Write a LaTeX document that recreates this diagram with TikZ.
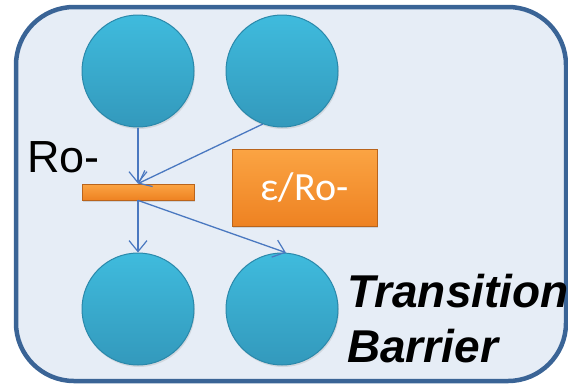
\documentclass[tikz,border=0pt]{standalone}
\usepackage{fontspec}
\setmainfont{Liberation Sans}
\newfontfamily\calibrifont{Carlito}
\usetikzlibrary{arrows.meta,shadows}
\definecolor{framefill}{HTML}{E6EDF6}
\definecolor{frameline}{HTML}{3A6496}
\definecolor{balltop}{HTML}{3FBBDD}
\definecolor{ballbot}{HTML}{3399BC}
\definecolor{ballrim}{HTML}{2A88AA}
\definecolor{orangetop}{HTML}{FBA443}
\definecolor{orangebot}{HTML}{EE8222}
\definecolor{orangerim}{HTML}{B9641C}
\definecolor{arrowblue}{HTML}{4A78C0}
\tikzset{
  x=1pt, y=-1pt,
  ball/.style={circle, minimum size=112pt, inner sep=0pt,
    top color=balltop, bottom color=ballbot, draw=ballrim, line width=1pt,
    drop shadow={shadow xshift=1pt, shadow yshift=-2pt, opacity=0.2}},
  barrier/.style={rectangle, minimum width=112pt, minimum height=16pt, inner sep=0pt,
    top color=orangetop, bottom color=orangebot, draw=orangerim, line width=0.8pt,
    drop shadow={shadow xshift=1pt, shadow yshift=-2pt, opacity=0.25}},
  ratebox/.style={rectangle, minimum width=145pt, minimum height=77pt, inner sep=0pt,
    top color=orangetop, bottom color=orangebot, draw=orangerim, line width=0.8pt,
    text=white, font=\calibrifont\fontsize{40}{48}\selectfont,
    drop shadow={shadow xshift=1pt, shadow yshift=-2pt, opacity=0.25}},
  flow/.style={draw=arrowblue, line width=1.3pt,
    -{Straight Barb[length=11pt,width=18pt,line width=1.2pt]}},
  caption/.style={anchor=base west, inner sep=0pt,
    font=\fontsize{46}{52}\selectfont\bfseries\itshape},
}
\begin{document}
\begin{tikzpicture}
  \useasboundingbox (0,0) rectangle (568,384);
  \begin{scope}
    \clip (0,0) rectangle (568,384);
    % outer frame
    \draw[line width=4.5pt, draw=frameline, fill=framefill, rounded corners=58pt]
      (16,7) rectangle (566,381);
    % places
    \node[ball] (tl) at (138,71) {};
    \node[ball] (tr) at (282,71) {};
    \node[ball] (bl) at (138,309) {};
    \node[ball] (br) at (282,309) {};
    % transition bar
    \node[barrier] (bar) at (138,192) {};
    % labels
    \node[ratebox] (rate) at (304.5,187.5) {ε/Ro-};
    \node[anchor=base west, inner sep=0pt, font=\fontsize{45}{50}\selectfont]
      (ro) at (27,172) {Ro-};
    \node[caption] (lbl) at (347,307) {Transition};
    \node[caption] (lbl2) at (347,362) {Barrier};
    % arcs
    \draw[flow] (tl.south) -- (bar.north);
    \draw[flow] (tr.250) -- (bar.north);
    \draw[flow] (bar.south) -- (bl.north);
    \draw[flow] (bar.south) -- (br.86);
  \end{scope}
\end{tikzpicture}
\end{document}
